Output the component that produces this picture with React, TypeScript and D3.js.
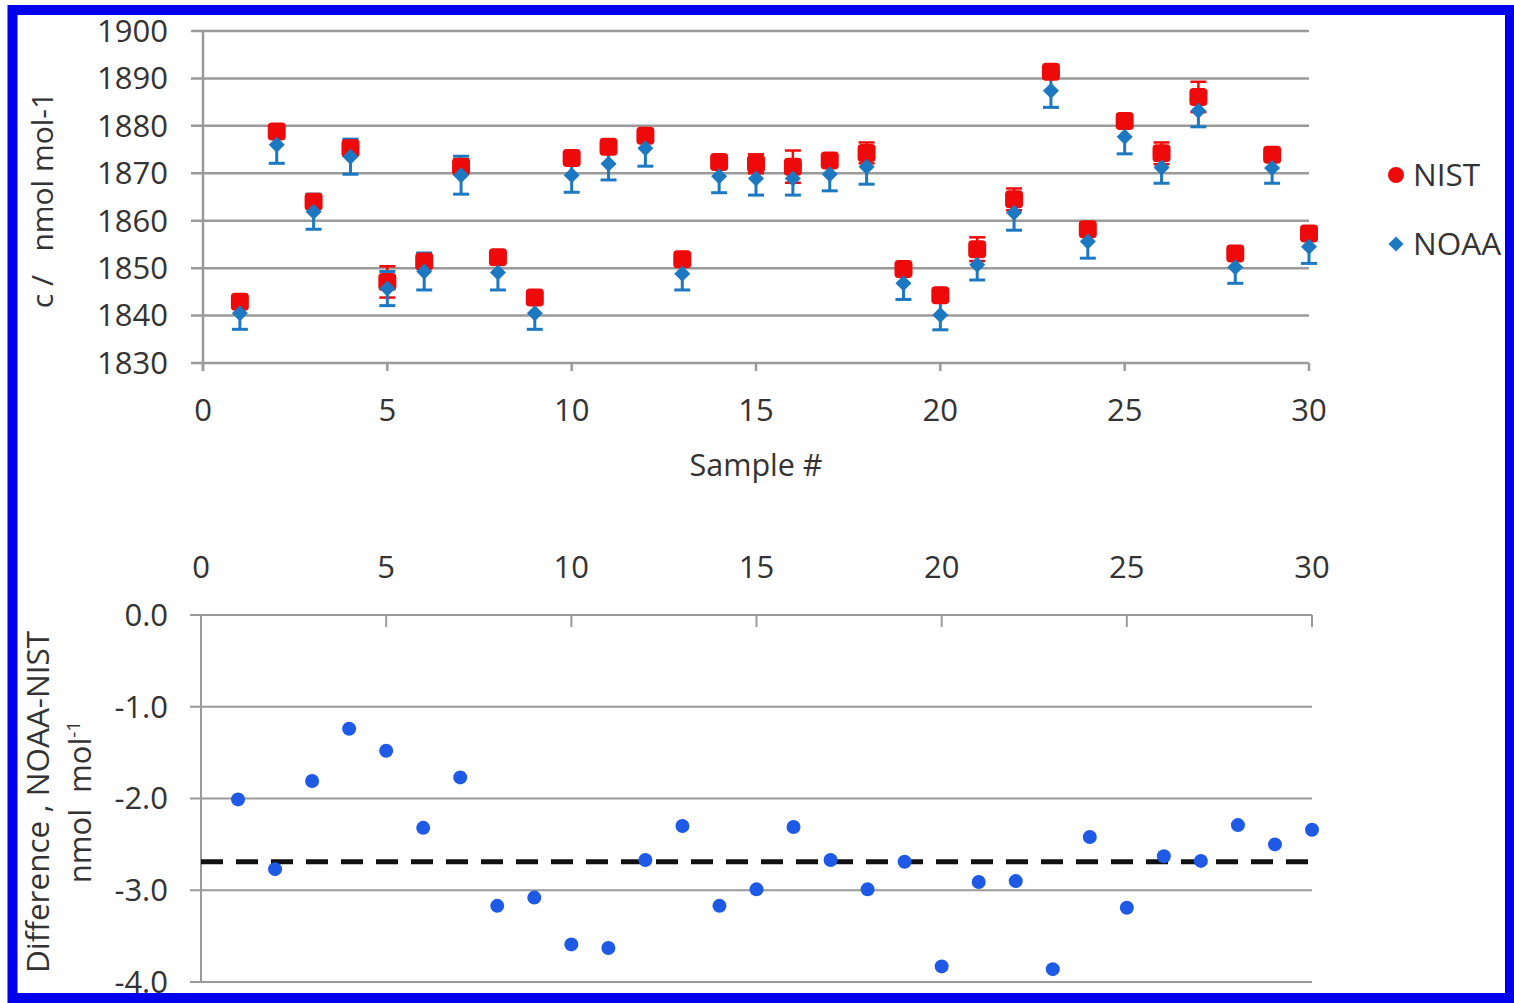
import React from 'react';
import * as d3 from 'd3';

const SAMPLES = [1, 2, 3, 4, 5, 6, 7, 8, 9, 10, 11, 12, 13, 14, 15, 16, 17, 18, 19, 20, 21, 22, 23, 24, 25, 26, 27, 28, 29, 30];
const NIST = [1842.9, 1878.8, 1864.0, 1875.3, 1847.1, 1851.4, 1871.4, 1852.3, 1843.8, 1873.2, 1875.6, 1877.9, 1851.9, 1872.4, 1872.0, 1871.4, 1872.7, 1874.3, 1849.8, 1844.3, 1854.0, 1864.5, 1891.4, 1858.2, 1881.0, 1874.2, 1886.1, 1853.1, 1873.9, 1857.3];
const NIST_ERR = [1.2, 1.2, 1.2, 1.6, 3.3, 1.2, 1.5, 1.2, 1.2, 1.2, 1.2, 1.2, 1.2, 1.2, 2.0, 3.4, 1.2, 2.2, 1.2, 1.2, 2.5, 2.3, 1.2, 1.2, 1.2, 2.3, 3.2, 1.2, 1.2, 1.2];
const NOAA = [1840.5, 1876.0, 1861.9, 1873.5, 1845.7, 1849.3, 1869.6, 1849.1, 1840.5, 1869.6, 1872.0, 1875.3, 1848.8, 1869.4, 1868.9, 1868.9, 1869.8, 1871.4, 1846.8, 1840.1, 1850.7, 1861.7, 1887.4, 1855.6, 1877.7, 1871.2, 1883.2, 1850.2, 1871.1, 1854.5];
const NOAA_ERR = [3.4, 3.9, 3.7, 3.7, 3.6, 3.9, 4.0, 3.7, 3.4, 3.6, 3.4, 3.8, 3.4, 3.5, 3.5, 3.5, 3.5, 3.7, 3.4, 3.1, 3.2, 3.7, 3.5, 3.5, 3.6, 3.3, 3.4, 3.4, 3.2, 3.5];
const DIFF = [-2.01, -2.77, -1.81, -1.24, -1.48, -2.32, -1.77, -3.17, -3.08, -3.59, -3.63, -2.67, -2.30, -3.17, -2.99, -2.31, -2.67, -2.99, -2.69, -3.83, -2.91, -2.90, -3.86, -2.42, -3.19, -2.63, -2.68, -2.29, -2.50, -2.34];
const MEAN_DIFF = -2.69;
const TOP_Y_TICKS = [1830, 1840, 1850, 1860, 1870, 1880, 1890, 1900];
const X_TICKS = [0, 5, 10, 15, 20, 25, 30];
const BOT_Y_TICKS = [0, -1, -2, -3, -4];

const FONT = "'Open Sans', 'Liberation Sans', sans-serif";
const RED = '#ee0a0a';
const STEEL = '#1c78c0';
const DOT = '#1f5ae6';
const GRID = '#9a9a9a';
const TXT = '#333333';

export default function App() {
  const xT = d3.scaleLinear().domain([0, 30]).range([203, 1309]);
  const yT = d3.scaleLinear().domain([1830, 1900]).range([363, 31]);
  const xB = d3.scaleLinear().domain([0, 30]).range([201, 1312]);
  const yB = d3.scaleLinear().domain([-4, 0]).range([982, 615]);
  const cap = 8;
  const diamond = (r: number) => `M0,${-r}L${r},0L0,${r}L${-r},0Z`;

  const errBars = (vals: number[], errs: number[], color: string, w: number, key: string) =>
    SAMPLES.map((s, i) => {
      const x = xT(s);
      const y0 = yT(vals[i] - errs[i]);
      const y1 = yT(vals[i] + errs[i]);
      return (
        <g key={key + s}>
          <line x1={x} x2={x} y1={y0} y2={y1} stroke={color} strokeWidth={w} />
          <line x1={x - cap} x2={x + cap} y1={y0} y2={y0} stroke={color} strokeWidth={w} />
          <line x1={x - cap} x2={x + cap} y1={y1} y2={y1} stroke={color} strokeWidth={w} />
        </g>
      );
    });

  return (
    <svg width={1514} height={1003} style={{ position: 'absolute', left: 0, top: 0, background: '#fff' }} fontFamily={FONT}>
      <rect x={0} y={0} width={1514} height={1003} fill="#fff" />
      {/* ---------- TOP CHART ---------- */}
      {TOP_Y_TICKS.map((t) => (
        <g key={'tg' + t}>
          <line x1={191} x2={xT(30)} y1={yT(t)} y2={yT(t)} stroke={GRID} strokeWidth={2.5} />
          <text x={168} y={yT(t)} dy="0.35em" textAnchor="end" fontSize={31} fill={TXT}>{t}</text>
        </g>
      ))}
      <line x1={xT(0)} x2={xT(0)} y1={yT(1900)} y2={yT(1830) + 8} stroke={GRID} strokeWidth={2.5} />
      {X_TICKS.map((t) => (
        <g key={'tx' + t}>
          <line x1={xT(t)} x2={xT(t)} y1={yT(1830)} y2={yT(1830) + 8} stroke={GRID} strokeWidth={2.5} />
          <text x={xT(t)} y={410} dy="0.35em" textAnchor="middle" fontSize={31} fill={TXT}>{t}</text>
        </g>
      ))}
      <text x={756} y={465} dy="0.35em" textAnchor="middle" fontSize={30.5} fill={TXT}>Sample #</text>
      <text transform="translate(42,200) rotate(-90)" textAnchor="middle" dy="0.35em" fontSize={30} fill={TXT} style={{ whiteSpace: 'pre' }}>{'c /   nmol mol-1'}</text>

      {errBars(NIST, NIST_ERR, RED, 2.5, 'ne')}
      {errBars(NOAA, NOAA_ERR, STEEL, 3, 'oe')}
      {SAMPLES.map((s, i) => (
        <rect key={'nm' + s} x={xT(s) - 9} y={yT(NIST[i]) - 9} width={18} height={18} rx={4} fill={RED} />
      ))}
      {SAMPLES.map((s, i) => (
        <path key={'om' + s} d={diamond(8)} transform={`translate(${xT(s)},${yT(NOAA[i])})`} fill={STEEL} />
      ))}

      {/* legend */}
      <circle cx={1396} cy={175} r={8} fill={RED} />
      <text x={1413} y={175} dy="0.35em" fontSize={31.5} fill={TXT}>NIST</text>
      <path d={diamond(7.5)} transform="translate(1396,244)" fill={STEEL} />
      <text x={1413} y={244} dy="0.35em" fontSize={31.5} fill={TXT}>NOAA</text>

      {/* ---------- BOTTOM CHART ---------- */}
      {BOT_Y_TICKS.map((t) => (
        <g key={'bg' + t}>
          <line x1={190} x2={xB(30)} y1={yB(t)} y2={yB(t)} stroke={GRID} strokeWidth={2} />
          <text x={168} y={yB(t)} dy="0.35em" textAnchor="end" fontSize={31} fill={TXT}>{d3.format('.1f')(t).replace('−', '-')}</text>
        </g>
      ))}
      <line x1={xB(0)} x2={xB(0)} y1={yB(0)} y2={yB(-4)} stroke={GRID} strokeWidth={2} />
      {X_TICKS.map((t) => (
        <g key={'bx' + t}>
          <line x1={xB(t)} x2={xB(t)} y1={yB(0)} y2={yB(0) + 12} stroke={GRID} strokeWidth={2} />
          <text x={xB(t)} y={567} dy="0.35em" textAnchor="middle" fontSize={31} fill={TXT}>{t}</text>
        </g>
      ))}
      <line x1={xB(0)} x2={xB(30)} y1={yB(MEAN_DIFF)} y2={yB(MEAN_DIFF)} stroke="#111" strokeWidth={5} strokeDasharray="22 13" />
      {SAMPLES.map((s, i) => (
        <circle key={'d' + s} cx={xB(s)} cy={yB(DIFF[i])} r={7} fill={DOT} />
      ))}
      <text transform="translate(38,802) rotate(-90)" textAnchor="middle" dy="0.35em" fontSize={31.5} fill={TXT}>Difference , NOAA-NIST</text>
      <text transform="translate(80,802) rotate(-90)" textAnchor="middle" dy="0.35em" fontSize={31} fill={TXT} style={{ whiteSpace: 'pre' }}>
        {'nmol  mol'}<tspan dy="-11" fontSize={19}>-1</tspan>
      </text>

      {/* blue frame */}
      <rect x={12.5} y={10} width={1497.5} height={988} fill="none" stroke="#0000ee" strokeWidth={10} />
    </svg>
  );
}
